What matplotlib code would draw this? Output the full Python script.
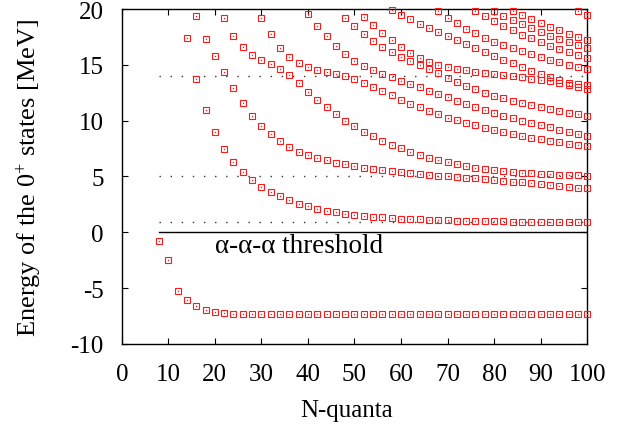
import numpy as np
import matplotlib
matplotlib.use("Agg")
import matplotlib.pyplot as plt

plt.rcParams['font.family'] = ['Liberation Serif', 'DejaVu Serif']
plt.rcParams['mathtext.default'] = 'regular'
plt.rcParams['axes.unicode_minus'] = False

# 0+ energies [MeV] per level, listed at even N starting from start_n
start_n = [8, 14, 16, 22, 30, 40, 48, 52, 58, 68, 76, 80, 84, 98]

level_0 = [-0.75, -2.5, -5.28, -6.06, -6.63, -6.96, -7.14, -7.25, -7.30, -7.32,
           -7.33, -7.34, -7.34, -7.34, -7.34, -7.34, -7.34, -7.34, -7.34, -7.34,
           -7.34, -7.34, -7.34, -7.34, -7.34, -7.34, -7.34, -7.34, -7.34, -7.34,
           -7.34, -7.34, -7.34, -7.34, -7.34, -7.34, -7.34, -7.34, -7.34, -7.34,
           -7.34, -7.34, -7.34, -7.34, -7.34, -7.34, -7.34]
level_1 = [17.4, 13.73, 10.94, 8.95, 7.43, 6.27, 5.40, 4.65, 4.06, 3.58,
           3.22, 2.86, 2.56, 2.33, 2.11, 1.91, 1.79, 1.67, 1.58, 1.49,
           1.40, 1.34, 1.28, 1.22, 1.19, 1.16, 1.13, 1.09, 1.06, 1.04,
           1.02, 1.00, 0.99, 0.98, 0.97, 0.96, 0.95, 0.95, 0.94, 0.94,
           0.93, 0.93, 0.92, 0.92]
level_2 = [19.4, 17.33, 15.76, 14.32, 12.89, 11.55, 10.44, 9.49, 8.77, 8.15,
           7.66, 7.22, 6.94, 6.65, 6.44, 6.23, 6.08, 5.90, 5.78, 5.66,
           5.57, 5.48, 5.39, 5.30, 5.21, 5.12, 5.06, 5.00, 4.94, 4.88,
           4.83, 4.74, 4.68, 4.62, 4.53, 4.47, 4.38, 4.29, 4.23, 4.14,
           4.05, 3.99, 3.93]
level_3 = [19.15, 17.54, 16.56, 15.9, 15.43, 15.04, 14.6, 14.05, 13.34, 12.6,
           11.82, 11.18, 10.56, 9.97, 9.48, 8.97, 8.59, 8.17, 7.81, 7.51,
           7.21, 6.94, 6.68, 6.44, 6.26, 6.08, 5.90, 5.75, 5.63, 5.54,
           5.45, 5.39, 5.33, 5.30, 5.24, 5.18, 5.15, 5.12, 5.09, 5.04]
level_4 = [19.15, 17.72, 16.5, 15.66, 15.13, 14.83, 14.56, 14.35, 14.14, 13.96,
           13.69, 13.4, 13.05, 12.66, 12.27, 11.85, 11.52, 11.18, 10.85, 10.56,
           10.28, 10.06, 9.79, 9.58, 9.37, 9.16, 8.95, 8.77, 8.62, 8.47,
           8.32, 8.18, 8.06, 7.94, 7.82, 7.72]
level_5 = [19.54, 18.47, 17.54, 16.68, 15.96, 15.37, 14.86, 14.5, 14.14, 13.87,
           13.57, 13.28, 12.98, 12.65, 12.36, 12.08, 11.79, 11.49, 11.22, 10.95,
           10.71, 10.44, 10.23, 10.0, 9.79, 9.58, 9.40, 9.19, 9.01, 8.83,
           8.65]
level_6 = [19.16, 18.44, 17.72, 17.13, 16.56, 16.11, 15.69, 15.31, 14.98, 14.59,
           14.23, 13.84, 13.45, 13.12, 12.80, 12.52, 12.24, 12.0, 11.79, 11.58,
           11.37, 11.19, 11.01, 10.86, 10.71, 10.56, 10.44]
level_7 = [19.25, 18.53, 17.84, 17.22, 16.62, 16.05, 15.57, 15.28, 14.98, 14.77,
           14.62, 14.5, 14.38, 14.29, 14.17, 14.05, 13.99, 13.87, 13.75, 13.66,
           13.57, 13.4, 13.2, 12.98, 12.83]
level_8 = [19.9, 19.46, 19.07, 18.65, 18.29, 17.9, 17.54, 17.22, 16.86, 16.5,
           16.11, 15.77, 15.45, 15.12, 14.77, 14.47, 14.17, 13.87, 13.6, 13.4,
           13.3, 13.21]
level_9 = [19.78, 19.19, 18.71, 18.2, 17.81, 17.43, 17.07, 16.77, 16.47, 16.2,
           15.93, 15.69, 15.45, 15.25, 15.01, 14.8, 14.59]
level_10 = [19.78, 19.34, 18.89, 18.47, 18.08, 17.69, 17.37, 17.01, 16.68, 16.38,
            16.11, 15.84, 15.63]
level_11 = [19.84, 19.4, 19.01, 18.62, 18.26, 17.9, 17.57, 17.31, 17.04, 16.77,
            16.53]
level_12 = [19.78, 19.43, 19.07, 18.74, 18.41, 18.08, 17.75, 17.49, 17.22]
level_13 = [19.78, 19.43]

levels = [level_0, level_1, level_2, level_3, level_4, level_5, level_6,
          level_7, level_8, level_9, level_10, level_11, level_12, level_13]

# decay thresholds (dotted) and alpha-alpha-alpha threshold (solid)
thresholds = [0.9, 5.05, 13.97]
line_start = 8
line_end = 100

fig = plt.figure(figsize=(6.41, 4.35), dpi=100)
ax = fig.add_axes([0.190, 0.207, 0.726, 0.770])

for e in thresholds:
    ax.plot([line_start, line_end], [e, e], color='#333333', lw=1.0,
            linestyle=(0, (1, 7)), zorder=1)
ax.plot([line_start, line_end], [0, 0], color='black', lw=1.0, zorder=1)

for n0, vals in zip(start_n, levels):
    n = n0 + 2 * np.arange(len(vals))
    ax.plot(n, vals, linestyle='none', marker='s', markersize=4.8,
            markerfacecolor='none', markeredgecolor='#ff1a1a',
            markeredgewidth=0.8, clip_on=False, zorder=3)
    ax.plot(n, vals, linestyle='none', marker='s', markersize=0.9,
            markerfacecolor='#ff1a1a', markeredgewidth=0, clip_on=False,
            zorder=3)

ax.text(20.0, -1.2, 'α-α-α threshold', fontsize=19.5, va='center', ha='left')

ax.set_xlim(0, 100)
ax.set_ylim(-10, 20)
ax.set_xticks(np.arange(0, 101, 10))
ax.set_yticks(np.arange(-10, 21, 5))
ax.tick_params(direction='in', top=True, right=True, length=4, width=0.8,
               labelsize=18)
ax.tick_params(axis='x', pad=14)
ax.tick_params(axis='y', pad=13)
for s in ax.spines.values():
    s.set_linewidth(1.0)

ax.set_xlabel('N-quanta', fontsize=18)
ax.xaxis.set_label_coords(0.484, -0.165)
ax.set_ylabel('Energy of the 0$^{+}$ states [MeV]', fontsize=19)
ax.yaxis.set_label_coords(-0.168, 0.5)

fig.savefig('out.png', dpi=100)
